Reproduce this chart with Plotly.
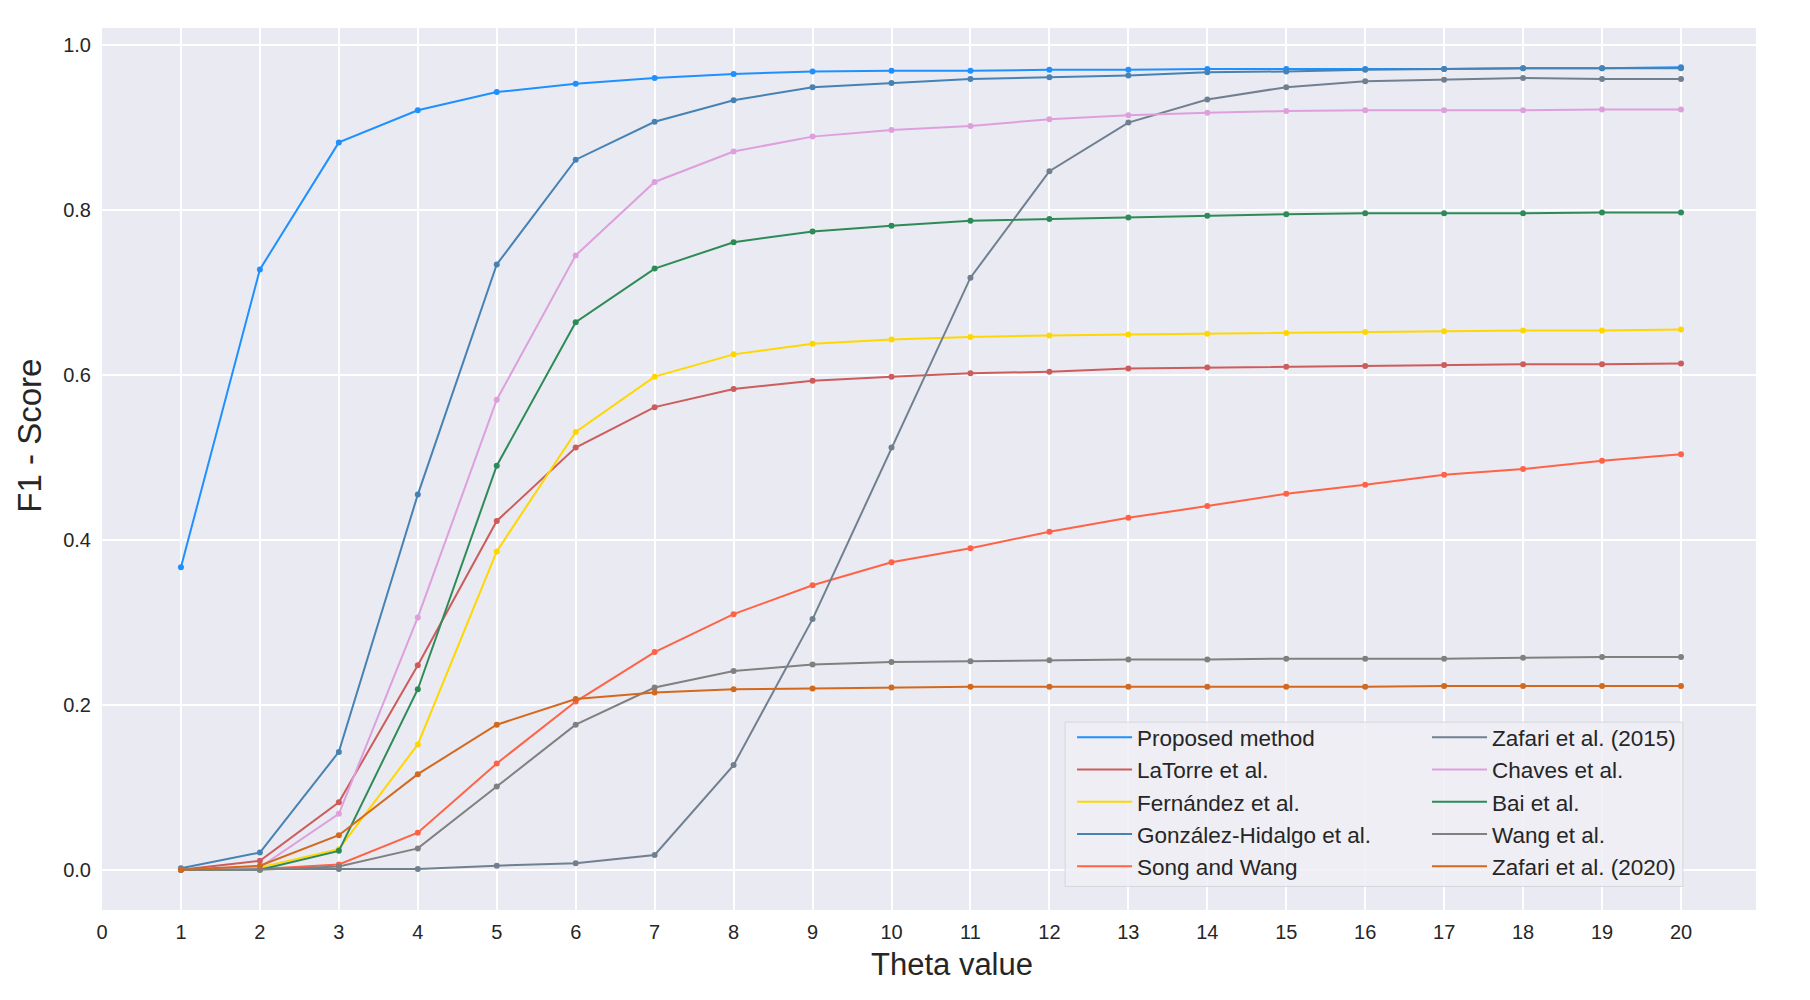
import plotly.graph_objects as go

theta = list(range(1, 21))

proposed = [0.367, 0.728, 0.882, 0.921, 0.943, 0.953, 0.960, 0.965, 0.968, 0.969,
            0.969, 0.970, 0.970, 0.971, 0.971, 0.971, 0.971, 0.972, 0.972, 0.973]
latorre = [0.0, 0.011, 0.082, 0.248, 0.423, 0.512, 0.561, 0.583, 0.593, 0.598,
           0.602, 0.604, 0.608, 0.609, 0.610, 0.611, 0.612, 0.613, 0.613, 0.614]
fernandez = [0.0, 0.003, 0.025, 0.152, 0.386, 0.531, 0.598, 0.625, 0.638, 0.643,
             0.646, 0.648, 0.649, 0.650, 0.651, 0.652, 0.653, 0.654, 0.654, 0.655]
gonzalez = [0.002, 0.021, 0.143, 0.455, 0.734, 0.861, 0.907, 0.933, 0.949, 0.954,
            0.959, 0.961, 0.963, 0.967, 0.968, 0.970, 0.971, 0.972, 0.972, 0.972]
song = [0.0, 0.001, 0.0065, 0.045, 0.129, 0.204, 0.264, 0.310, 0.345, 0.373,
        0.390, 0.410, 0.427, 0.441, 0.456, 0.467, 0.479, 0.486, 0.496, 0.504]
zafari2015 = [0.001, 0.001, 0.001, 0.001, 0.005, 0.008, 0.018, 0.127, 0.304, 0.512,
              0.718, 0.847, 0.906, 0.934, 0.949, 0.956, 0.958, 0.960, 0.959, 0.959]
chaves = [0.0, 0.003, 0.068, 0.306, 0.570, 0.745, 0.834, 0.871, 0.889, 0.897,
          0.902, 0.910, 0.915, 0.918, 0.920, 0.921, 0.921, 0.921, 0.922, 0.922]
bai = [0.0, 0.0, 0.023, 0.219, 0.490, 0.664, 0.729, 0.761, 0.774, 0.781,
       0.787, 0.789, 0.791, 0.793, 0.795, 0.796, 0.796, 0.796, 0.797, 0.797]
wang = [0.0, 0.0, 0.004, 0.026, 0.101, 0.176, 0.221, 0.241, 0.249, 0.252,
        0.253, 0.254, 0.255, 0.255, 0.256, 0.256, 0.256, 0.257, 0.258, 0.258]
zafari2020 = [0.0, 0.005, 0.042, 0.116, 0.176, 0.207, 0.215, 0.219, 0.220, 0.221,
              0.222, 0.222, 0.222, 0.222, 0.222, 0.222, 0.223, 0.223, 0.223, 0.223]

# name, values, colour, legend column
series = [
    ("Proposed method", proposed, "#1E90FF", "legend"),
    ("LaTorre et al.", latorre, "#CD5C5C", "legend"),
    ("Fernández et al.", fernandez, "#FFD700", "legend"),
    ("González-Hidalgo et al.", gonzalez, "#4682B4", "legend"),
    ("Song and Wang", song, "#FF6347", "legend"),
    ("Zafari et al. (2015)", zafari2015, "#708090", "legend2"),
    ("Chaves et al.", chaves, "#DDA0DD", "legend2"),
    ("Bai et al.", bai, "#2E8B57", "legend2"),
    ("Wang et al.", wang, "#808080", "legend2"),
    ("Zafari et al. (2020)", zafari2020, "#D2691E", "legend2"),
]

fig = go.Figure()
for name, vals, col, leg in series:
    # line carries the legend entry, dots drawn on top without one
    fig.add_trace(go.Scatter(x=theta, y=vals, name=name, mode="lines",
                             line=dict(color=col, width=2),
                             legendgroup=name, legend=leg))
    fig.add_trace(go.Scatter(x=theta, y=vals, name=name, mode="markers",
                             marker=dict(color=col, size=6),
                             legendgroup=name, showlegend=False, legend=leg))

txt = "#262626"
font = "Liberation Sans, Arial, sans-serif"

fig.update_xaxes(range=[0, 20.95], tickmode="array", tickvals=list(range(0, 21)),
                 showgrid=True, gridcolor="white", gridwidth=1.6, zeroline=False,
                 showline=False, ticks="", ticklabelstandoff=8,
                 tickfont=dict(size=20, color=txt, family=font))
fig.update_yaxes(range=[-0.0487, 1.0207], tickvals=[0, 0.2, 0.4, 0.6, 0.8, 1.0],
                 tickformat=".1f",
                 showgrid=True, gridcolor="white", gridwidth=1.6, zeroline=False,
                 showline=False, ticks="", ticklabelstandoff=10,
                 tickfont=dict(size=20, color=txt, family=font))

fig.add_annotation(text="Theta value", xref="paper", yref="paper", x=0.514, y=-0.0618,
                   xanchor="center", yanchor="middle", showarrow=False,
                   font=dict(size=31, color=txt, family=font))
fig.add_annotation(text="F1 - Score", xref="paper", yref="paper", x=-0.044, y=0.538,
                   xanchor="center", yanchor="middle", showarrow=False, textangle=-90,
                   font=dict(size=33, color=txt, family=font))

# legend frame shared by the two legend columns
fig.add_shape(type="rect", xref="paper", yref="paper", x0=0.5823, x1=0.9558,
              y0=0.0267, y1=0.213, layer="above",
              fillcolor="rgba(239,239,245,0.85)", line=dict(color="#D6D6DC", width=1))

leg_style = dict(xanchor="left", yanchor="top", itemwidth=55, tracegroupgap=0,
                 bgcolor="rgba(0,0,0,0)", borderwidth=0,
                 font=dict(size=22.5, color=txt, family=font))

fig.update_layout(
    width=1810, height=1000,
    paper_bgcolor="white", plot_bgcolor="#EAEAF2",
    margin=dict(l=94, r=62, t=20, b=98, autoexpand=False),
    font=dict(family=font, color=txt),
    legend=dict(x=0.5865, y=0.2198, **leg_style),
    legend2=dict(x=0.8011, y=0.2198, **leg_style),
    showlegend=True,
)

fig.write_html("out.html")
